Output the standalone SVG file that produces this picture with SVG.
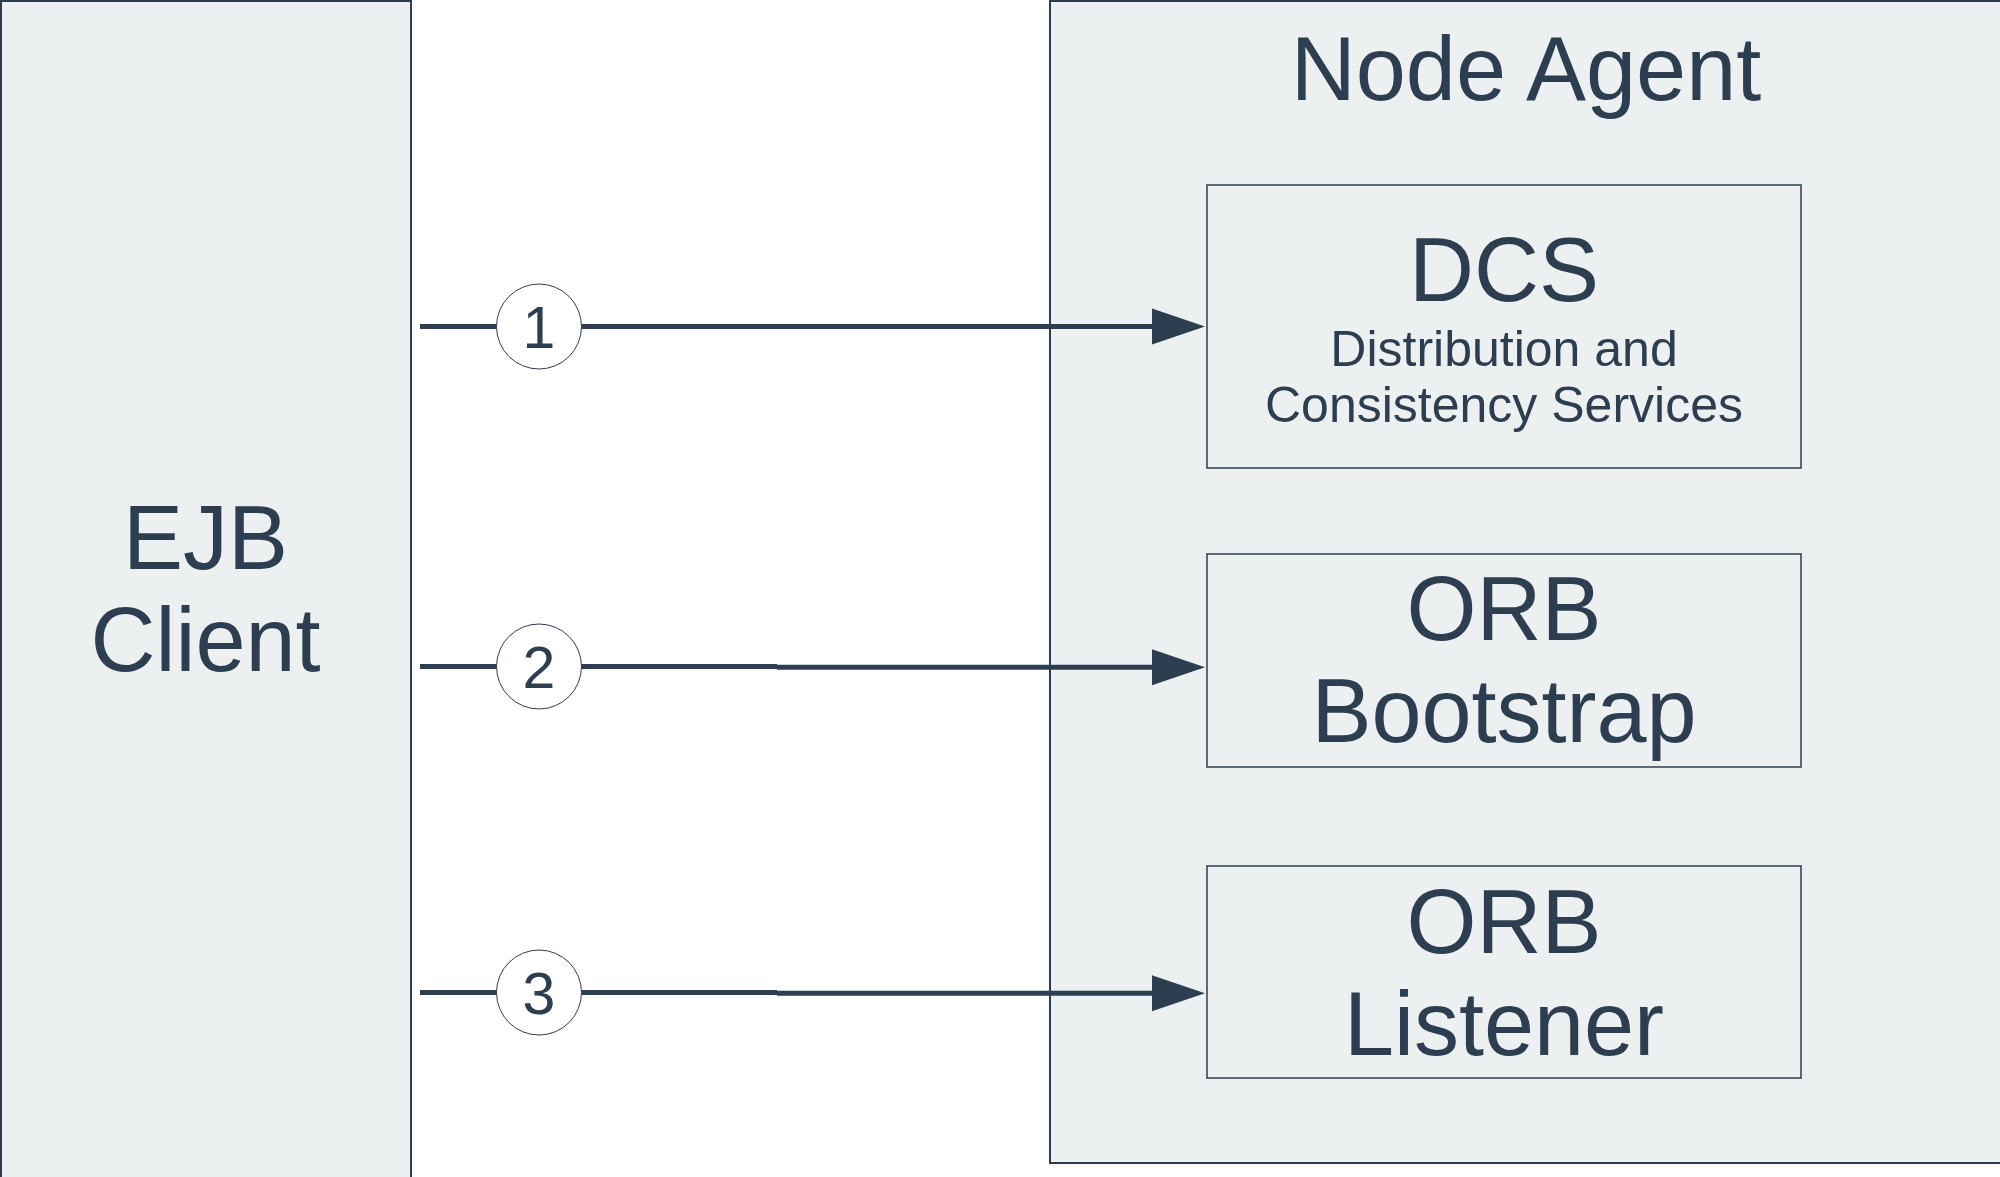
<svg xmlns="http://www.w3.org/2000/svg" width="2000" height="1177" viewBox="0 0 2000 1177">
<style>
.box{fill:#ECF0F1;stroke:#2C3E50;stroke-width:1.5}
.t{font-family:"Liberation Sans",Arial,sans-serif;fill:#2C3E50;text-anchor:middle}
.big{font-size:90px}
.sub{font-size:50px}
.num{font-size:59px}
.ln{fill:none;stroke:#2C3E50;stroke-width:5}
.badge{fill:#FFFFFF;stroke:#2C3E50;stroke-width:1}
</style>
<defs>
<marker id="arr" markerUnits="userSpaceOnUse" markerWidth="54" markerHeight="36" refX="0" refY="18" orient="auto" overflow="visible">
<path d="M0,0 L53,18 L0,36 Z" fill="#2C3E50"/>
</marker>
</defs>
<rect width="2000" height="1177" fill="#FFFFFF"/>
<g id="ejb-client">
<rect class="box" x="1" y="1" width="410" height="1200" style="stroke-width:2"/>
<text class="t big" x="205.5" y="569">EJB</text>
<text class="t big" x="205.5" y="671">Client</text>
</g>
<g id="node-agent">
<rect class="box" x="1050" y="1" width="1000" height="1162" style="stroke-width:2"/>
<text class="t big" x="1526" y="100">Node Agent</text>
</g>
<g id="dcs">
<rect class="box" x="1207" y="185" width="594" height="283"/>
<text class="t big" x="1504" y="301">DCS</text>
<text class="t sub" x="1504" y="366">Distribution and</text>
<text class="t sub" x="1504" y="422">Consistency Services</text>
</g>
<g id="orb-bootstrap">
<rect class="box" x="1207" y="554" width="594" height="213"/>
<text class="t big" x="1504" y="640">ORB</text>
<text class="t big" x="1504" y="742">Bootstrap</text>
</g>
<g id="orb-listener">
<rect class="box" x="1207" y="866" width="594" height="212"/>
<text class="t big" x="1504" y="953">ORB</text>
<text class="t big" x="1504" y="1055">Listener</text>
</g>
<g id="connectors">
<path class="ln" d="M420,326.5 H777 M777,326.5 H1152" marker-end="url(#arr)"/>
<path class="ln" d="M420,666.5 H777 M777,667.3 H1152" marker-end="url(#arr)"/>
<path class="ln" d="M420,992.5 H777 M777,993.3 H1152" marker-end="url(#arr)"/>
<g id="badge-1">
<circle class="badge" cx="539" cy="326.5" r="42.5"/>
<text class="t num" x="539" y="347.5">1</text>
</g>
<g id="badge-2">
<circle class="badge" cx="539" cy="666.5" r="42.5"/>
<text class="t num" x="539" y="687.5">2</text>
</g>
<g id="badge-3">
<circle class="badge" cx="539" cy="992.5" r="42.5"/>
<text class="t num" x="539" y="1013.5">3</text>
</g>
</g>
</svg>
